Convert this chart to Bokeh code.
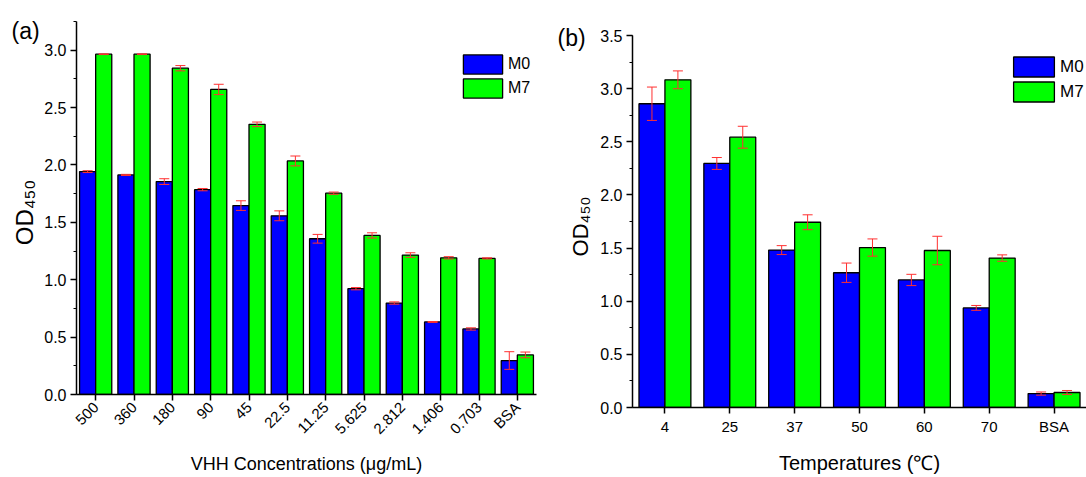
from math import pi
from bokeh.plotting import figure
from bokeh.models import (ColumnDataSource, FactorRange, Range1d, Whisker, TeeHead,
                          Legend, LegendItem, Label, SingleIntervalTicker, NumeralTickFormatter)
from bokeh.transform import dodge
from bokeh.layouts import row
from bokeh.embed import file_html
from bokeh.resources import INLINE

# ---------------- data ----------------
conc_labels = ["500", "360", "180", "90", "45", "22.5", "11.25", "5.625", "2.812", "1.406", "0.703", "BSA"]
conc_m0 = [1.942, 1.913, 1.855, 1.785, 1.646, 1.557, 1.357, 0.922, 0.797, 0.632, 0.571, 0.296]
conc_m0_err = [0.008, 0.005, 0.025, 0.010, 0.042, 0.043, 0.038, 0.010, 0.010, 0.004, 0.010, 0.077]
conc_m7 = [2.965, 2.965, 2.843, 2.658, 2.354, 2.035, 1.754, 1.386, 1.215, 1.191, 1.186, 0.345]
conc_m7_err = [0.003, 0.003, 0.023, 0.045, 0.020, 0.043, 0.010, 0.023, 0.020, 0.010, 0.005, 0.025]

temp_labels = ["4", "25", "37", "50", "60", "70", "BSA"]
temp_m0 = [2.858, 2.296, 1.481, 1.268, 1.200, 0.937, 0.131]
temp_m0_err = [0.157, 0.056, 0.042, 0.091, 0.053, 0.023, 0.015]
temp_m7 = [3.083, 2.543, 1.743, 1.505, 1.477, 1.406, 0.141]
temp_m7_err = [0.084, 0.103, 0.070, 0.081, 0.134, 0.030, 0.019]

series_names = ["M0", "M7"]
series_colors = ["#0000ff", "#00ff00"]
FONT = "Liberation Sans"
ERR_COLOR = "#ff3030"
H = 477


def side_strip(width, panel_text, panel_xy, od_xy, od_size):
    """Narrow strip left of a panel holding the panel letter and the y-axis title."""
    f = figure(width=width, height=H, x_range=Range1d(0, 1), y_range=Range1d(0, 1),
               x_axis_type=None, y_axis_type=None, output_backend="svg", toolbar_location=None,
               min_border=0)
    f.frame_align = False
    f.outline_line_color = None
    f.grid.visible = False
    f.add_layout(Label(x=panel_xy[0], y=panel_xy[1], x_units="screen", y_units="screen",
                       text=panel_text, text_font=FONT, text_font_size="23px",
                       text_baseline="middle", text_align="left", text_color="black"))
    f.add_layout(Label(x=od_xy[0], y=od_xy[1], x_units="screen", y_units="screen",
                       text="OD₄₅₀", angle=pi / 2, text_font=FONT, text_font_size=od_size,
                       text_baseline="middle", text_align="center", text_color="black"))
    return f


def make_panel(cats, m0, m0e, m7, m7e, width, bl, br, bt, bb, ymax, bar_w, rot,
               legend_loc, glyph_w, glyph_h, legend_font):
    src = ColumnDataSource(dict(
        cat=cats, m0=m0, m7=m7,
        m0_lo=[v - e for v, e in zip(m0, m0e)], m0_hi=[v + e for v, e in zip(m0, m0e)],
        m7_lo=[v - e for v, e in zip(m7, m7e)], m7_hi=[v + e for v, e in zip(m7, m7e)],
    ))
    p = figure(x_range=FactorRange(factors=cats, range_padding=0), y_range=Range1d(0, ymax),
               width=width, height=H, output_backend="svg", toolbar_location=None,
               min_border_left=bl, min_border_right=br, min_border_top=bt, min_border_bottom=bb)
    p.frame_align = False
    p.outline_line_color = None
    p.grid.visible = False
    p.background_fill_color = "white"
    p.border_fill_color = "white"

    renderers = []
    for name, color, off in zip(series_names, series_colors, [-bar_w / 2, bar_w / 2]):
        key = name.lower()
        r = p.vbar(x=dodge("cat", off, range=p.x_range), top=key, width=bar_w, source=src,
                   fill_color=color, line_color="black", line_width=1.3)
        renderers.append(r)
        w = Whisker(base=dodge("cat", off, range=p.x_range), upper=key + "_hi", lower=key + "_lo",
                    source=src, line_color=ERR_COLOR, line_width=1, level="annotation",
                    upper_head=TeeHead(size=10, line_color=ERR_COLOR, line_width=1),
                    lower_head=TeeHead(size=10, line_color=ERR_COLOR, line_width=1))
        p.add_layout(w)

    legend = Legend(items=[LegendItem(label=n, renderers=[r]) for n, r in zip(series_names, renderers)],
                    location=legend_loc, glyph_width=glyph_w, glyph_height=glyph_h,
                    label_height=glyph_h, spacing=0, padding=0, margin=0, label_standoff=1,
                    label_text_font=FONT, label_text_font_size=legend_font,
                    label_text_color="black",
                    background_fill_alpha=0, border_line_alpha=0)
    p.add_layout(legend)

    p.yaxis.ticker = SingleIntervalTicker(interval=0.5, num_minor_ticks=2)
    p.yaxis.formatter = NumeralTickFormatter(format="0.0")
    for ax in [p.xaxis[0], p.yaxis[0]]:
        ax.axis_line_width = 1.5
        ax.axis_line_color = "black"
        ax.major_tick_line_width = 1.5
        ax.major_tick_line_color = "black"
        ax.major_tick_out = 6
        ax.major_tick_in = 0
        ax.major_label_standoff = 4
        ax.major_label_text_font = FONT
        ax.major_label_text_color = "black"
        ax.axis_label_text_font = FONT
        ax.axis_label_text_font_style = "normal"
        ax.axis_label_text_color = "black"
    p.yaxis.minor_tick_out = 3
    p.yaxis.minor_tick_in = 0
    p.yaxis.minor_tick_line_color = "black"
    p.yaxis.major_label_text_font_size = "16px"
    p.xaxis.major_label_text_font_size = "15px"
    p.xaxis.major_label_orientation = rot
    return p


# ---- panel (a) ----
fa = side_strip(41, "(a)", (11, H - 30), (24, H - 212), "24px")
pa = make_panel(conc_labels, conc_m0, conc_m0_err, conc_m7, conc_m7_err,
                width=516, bl=32, br=21, bt=21, bb=82, ymax=3.25, bar_w=0.42, rot=pi / 4,
                legend_loc=(382, 294), glyph_w=49, glyph_h=24, legend_font="16px")
pa.xaxis.axis_label = "VHH Concentrations (μg/mL)"
pa.xaxis.axis_label_text_font_size = "18px"
pa.xaxis.axis_label_standoff = 8

# ---- panel (b) ----
fb = side_strip(40, "(b)", (0, H - 37.5), (23, H - 226), "22px")
pb = make_panel(temp_labels, temp_m0, temp_m0_err, temp_m7, temp_m7_err,
                width=489, bl=35, br=0, bt=35, bb=70, ymax=3.5, bar_w=0.4, rot="horizontal",
                legend_loc=(376, 303), glyph_w=51, glyph_h=25, legend_font="17px")
pb.xaxis.axis_label = "Temperatures (℃)"
pb.xaxis.axis_label_text_font_size = "20px"
pb.xaxis.axis_label_standoff = 14

layout = row(fa, pa, fb, pb)
open("out.html", "w").write(file_html(layout, INLINE))
